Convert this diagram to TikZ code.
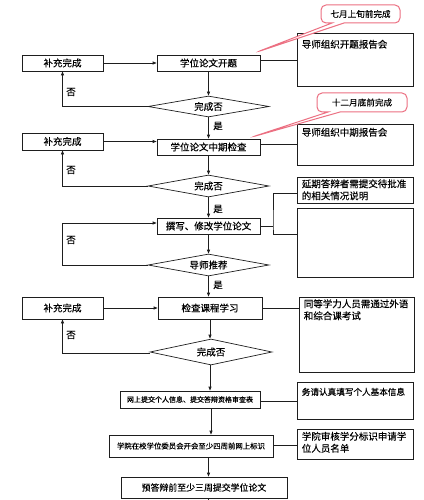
\documentclass[tikz,border=0pt]{standalone}
\usepackage{fontspec}
\setmainfont{Noto Sans CJK SC}[FakeBold=0.3]
\usetikzlibrary{shapes.geometric,shapes.callouts,arrows.meta,calc}
\definecolor{ln}{RGB}{30,30,30}
\definecolor{pk}{RGB}{236,112,130}
\begin{document}
\begin{tikzpicture}[x=1pt,y=-1pt,
  every node/.style={text=black},
  fn/.style={font=\fontsize{9.5}{12}\selectfont},
  box/.style={draw=ln, line width=0.7pt, minimum width=103pt, minimum height=16pt, inner sep=0pt, fn},
  dia/.style={diamond, aspect=6, draw=ln, line width=0.7pt, minimum width=121pt, minimum height=22pt, inner sep=0pt, fn},
  note/.style={draw=ln, line width=0.7pt, minimum width=116pt, inner sep=0pt},
  ntxt/.style={anchor=north west, inner sep=0pt, xshift=5pt, yshift=-4pt, align=left, fn},
  conn/.style={draw=ln, line width=0.7pt},
  arr/.style={conn, -{Triangle[length=4pt,width=3pt]}},
  lbl/.style={inner sep=0pt, fn},
  cout/.style={rectangle callout, rounded corners=5pt, draw=pk, line width=1pt, fill=white, inner sep=0pt, callout pointer width=12pt, font=\fontsize{8.6}{10}\selectfont}
]
\fill[white] (0,0) rectangle (423,500);
\useasboundingbox (0,0) rectangle (423,500);

% row 1
\node[box, minimum width=81pt] (b1) at (62.5,63) {补充完成};
\node[box] (k1) at (208.5,63) {学位论文开题};
\node[note, minimum height=53pt, label={[ntxt, yshift=-3pt]north west:导师组织开题报告会}] (r1) at (355,59.5) {};
\node[dia, minimum height=21pt] (d1) at (208.5,106.5) {完成否};

% row 2
\node[box, minimum width=81pt, minimum height=17pt] (b2) at (62.5,141.5) {补充完成};
\node[box] (k2) at (208.5,147) {学位论文中期检查};
\node[note, minimum height=41pt, label={[ntxt]north west:导师组织中期报告会}] (r2) at (355,144.5) {};
\node[dia] (d2) at (208.5,186) {完成否};

% row 3
\node[note, minimum height=26pt, label={[ntxt, yshift=1.5pt]north west:延期答辩者需提交待批准\\的相关情况说明}] (n3) at (355,190) {};
\node[note, minimum height=69pt] (e3) at (355,242.5) {};
\node[box] (k3) at (208.5,226) {撰写、修改学位论文};
\node[dia] (d3) at (208.5,265) {导师推荐};

% row 4
\node[box, minimum width=81pt, minimum height=22pt] (b4) at (62.5,308) {补充完成};
\node[box, minimum width=104pt, minimum height=22pt] (k4) at (210,308) {检查课程学习};
\node[note, minimum width=115pt, minimum height=75pt, label={[ntxt, yshift=1.5pt]north west:同等学力人员需通过外语\\和综合课考试}] (r4) at (356.5,334.5) {};
\node[dia, minimum width=122pt, minimum height=26pt] (d4) at (211,352) {完成否};

% lower part
\node[box, minimum width=140pt, minimum height=17pt, font=\fontsize{7}{8}\selectfont] (k5) at (190,399.5) {网上提交个人信息、提交答辩资格审查表};
\node[note, minimum height=37pt, label={[ntxt, yshift=-2pt, font=\fontsize{8.6}{10}\selectfont]north west:务请认真填写个人基本信息}] (r5) at (355,400.5) {};
\node[box, minimum width=164pt, minimum height=22pt, font=\fontsize{7.4}{8}\selectfont] (k6) at (191,446) {学院在校学位委员会开会至少四周前网上标识};
\node[note, minimum height=30pt, label={[ntxt, yshift=1pt]north west:学院审核学分标识申请学\\位人员名单}] (r6) at (355,444) {};
\node[box, minimum width=166pt, minimum height=21pt, font=\fontsize{8.9}{10}\selectfont] (k7) at (204,487.5) {预答辩前至少三周提交学位论文};

% callouts
\coordinate (t1) at (257,52);
\coordinate (t2) at (252,137);
\node[cout, minimum width=79pt, minimum height=18pt, callout absolute pointer=(t1)] (c1) at (360.5,14) {七月上旬前完成};
\node[cout, minimum width=90pt, minimum height=19pt, callout absolute pointer=(t2)] (c2) at (362,102.5) {十二月底前完成};

% horizontal connectors
\draw[arr] (b1.east) -- (k1.west);
\draw[conn] ([yshift=3pt]k1.east) -- ([yshift=3pt]k1.east -| r1.west);
\draw[arr] (b2.east) -- (b2.east -| k2.west);
\draw[conn] ([yshift=3pt]k2.east) -- ([yshift=3pt]k2.east -| r2.west);
\coordinate (bk) at (273,226);
\draw[conn] (k3.east) -- (bk);
\draw[conn] ([yshift=-3pt]n3.west) -| (bk) |- ([yshift=8.5pt]e3.west);
\draw[arr] (b4.east) -- (k4.west);
\draw[conn] (k4.east) -- (k4.east -| r4.west);
\draw[conn] ([yshift=-1.5pt]k5.east) -- ([yshift=-1.5pt]k5.east -| r5.west);
\draw[conn] ([yshift=1pt]k6.east) -- ([yshift=1pt]k6.east -| r6.west);

% vertical connectors
\draw[arr] (k1.south) -- (d1.north);
\draw[arr] (d1.south) -- (k2.north);
\draw[arr] (k2.south) -- (d2.north);
\draw[arr] (d2.south) -- (k3.north);
\draw[arr] (k3.south) -- (d3.north);
\draw[arr] (d3.south) -- (d3.south |- k4.north);
\draw[arr] (k4.south) -- (k4.south |- d4.north);
\draw[arr] (k4.south |- d4.south) -- (k4.south |- k5.north);
\draw[arr] (d4.south |- k5.south) -- (d4.south |- k6.north);
\draw[arr] (k1.south |- k6.south) -- (k1.south |- k7.north);
\draw[conn] (k1.south |- k7.south) -- ++(0,4);

% no-loops
\draw[arr] (d1.west) -| (b1.south);
\draw[arr] (d2.west) -| (b2.south);
\coordinate (l3) at (62,223);
\draw[arr] (d3.west) -| (l3) -- (l3 -| k3.west);
\draw[arr] ([yshift=-1pt]d4.west) -| (b4.south);

% labels
\node[lbl] (n1) at (71,92) {否};
\node[lbl] (n2) at (71,170) {否};
\node[lbl] (n3l) at (71,240) {否};
\node[lbl] (n4) at (71,335) {否};
\node[lbl] (y1) at (218,126) {是};
\node[lbl] (y2) at (218,209) {是};
\node[lbl] (y3) at (218,285) {是};
\end{tikzpicture}
\end{document}
